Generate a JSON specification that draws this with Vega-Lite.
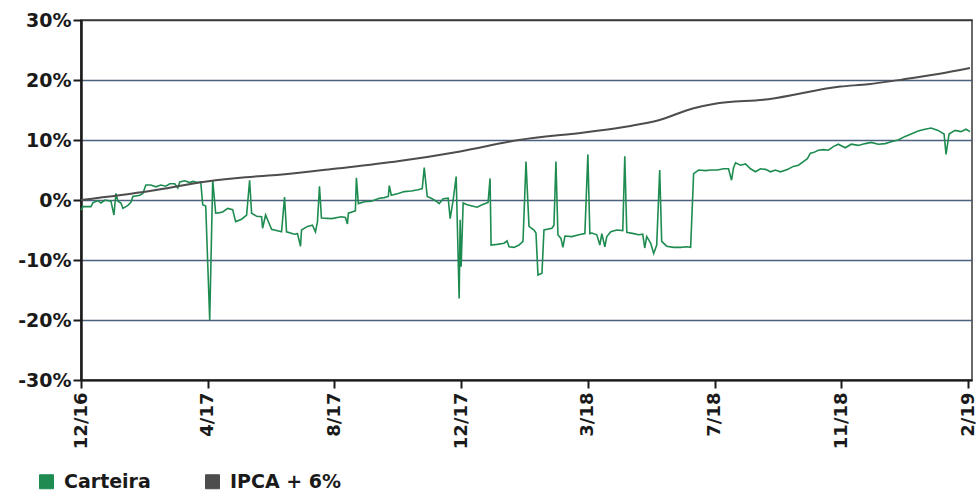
{
  "$schema": "https://vega.github.io/schema/vega-lite/v6.json",
  "width": 891,
  "height": 360,
  "autosize": "none",
  "padding": {"left": 81, "top": 20, "right": 5, "bottom": 112},
  "background": "white",
  "config": {
    "view": {"stroke": "#3a3a3a", "strokeWidth": 1.5},
    "font": "DejaVu Sans",
    "axis": {"labelFont": "DejaVu Sans", "labelFontWeight": "bold", "labelColor": "#1a1a1a"},
    "legend": {"labelFont": "DejaVu Sans"}
  },
  "datasets": {
    "carteira": [
      {"x":0,"y":-1.7},{"x":2,"y":-1.1},{"x":10,"y":-1.1},{"x":12,"y":-0.45},{"x":17,"y":-0.1},{"x":20,"y":-0.5},{"x":24,"y":0},{"x":30,"y":-0.2},{"x":33,"y":-2.5},{"x":35,"y":1.1},{"x":37,"y":-0.2},{"x":40,"y":-0.5},{"x":42,"y":-1.4},{"x":47,"y":-0.9},{"x":50,"y":-0.4},{"x":52,"y":0.6},{"x":59,"y":0.8},{"x":62,"y":1.1},{"x":65,"y":2.5},{"x":70,"y":2.5},{"x":75,"y":2.2},{"x":80,"y":2.5},{"x":85,"y":2.3},{"x":89,"y":2.7},{"x":94,"y":2.7},{"x":97,"y":2.0},{"x":99,"y":3.0},{"x":104,"y":3.2},{"x":109,"y":2.9},{"x":112,"y":3.1},{"x":117,"y":2.9},{"x":120,"y":3.0},{"x":122,"y":-0.8},{"x":125,"y":-1.0},{"x":129,"y":-20},{"x":132,"y":3.3},{"x":135,"y":-2.2},{"x":139,"y":-2.1},{"x":142,"y":-2.0},{"x":147,"y":-1.4},{"x":152,"y":-1.6},{"x":155,"y":-3.6},{"x":161,"y":-3.2},{"x":166,"y":-2.5},{"x":169,"y":3.3},{"x":171,"y":-2.2},{"x":176,"y":-2.7},{"x":181,"y":-2.8},{"x":182,"y":-4.7},{"x":185,"y":-2.5},{"x":187,"y":-3.3},{"x":191,"y":-4.9},{"x":201,"y":-5.3},{"x":204,"y":0.5},{"x":206,"y":-5.3},{"x":214,"y":-5.7},{"x":217,"y":-5.6},{"x":220,"y":-7.7},{"x":221,"y":-5.0},{"x":227,"y":-4.4},{"x":232,"y":-4.2},{"x":235,"y":-5.3},{"x":237,"y":-3.6},{"x":239,"y":2.3},{"x":241,"y":-3.0},{"x":251,"y":-3.1},{"x":261,"y":-2.8},{"x":265,"y":-2.9},{"x":267,"y":-4.0},{"x":268,"y":-2.2},{"x":273,"y":-1.9},{"x":275,"y":-1.8},{"x":276,"y":3.7},{"x":278,"y":-0.6},{"x":284,"y":-0.3},{"x":291,"y":-0.2},{"x":299,"y":0.3},{"x":304,"y":0.4},{"x":308,"y":0.6},{"x":309,"y":2.4},{"x":311,"y":0.8},{"x":318,"y":1.1},{"x":324,"y":1.4},{"x":331,"y":1.5},{"x":338,"y":1.7},{"x":342,"y":1.9},{"x":344,"y":5.4},{"x":347,"y":0.6},{"x":351,"y":0.3},{"x":356,"y":-0.2},{"x":359,"y":-0.6},{"x":363,"y":0.2},{"x":368,"y":0.3},{"x":370,"y":-3.1},{"x":373,"y":0.0},{"x":376,"y":3.9},{"x":379,"y":-16.4},{"x":380,"y":-3.3},{"x":381,"y":-11.1},{"x":383,"y":-0.5},{"x":387,"y":-0.8},{"x":392,"y":-1.0},{"x":397,"y":-1.2},{"x":402,"y":-0.8},{"x":408,"y":-0.4},{"x":410,"y":3.6},{"x":411,"y":-7.5},{"x":417,"y":-7.4},{"x":424,"y":-7.2},{"x":427,"y":-6.8},{"x":429,"y":-7.8},{"x":434,"y":-7.9},{"x":439,"y":-7.5},{"x":443,"y":-6.9},{"x":446,"y":6.4},{"x":449,"y":-4.4},{"x":454,"y":-5.0},{"x":456,"y":-5.5},{"x":458,"y":-12.5},{"x":462,"y":-12.2},{"x":464,"y":-5.0},{"x":472,"y":-4.7},{"x":474,"y":-4.2},{"x":476,"y":6.4},{"x":478,"y":-5.8},{"x":481,"y":-6.4},{"x":483,"y":-7.9},{"x":485,"y":-6.0},{"x":492,"y":-6.1},{"x":499,"y":-5.8},{"x":505,"y":-5.6},{"x":508,"y":7.6},{"x":510,"y":-5.6},{"x":512,"y":-5.5},{"x":517,"y":-5.8},{"x":520,"y":-7.5},{"x":522,"y":-5.6},{"x":525,"y":-7.8},{"x":527,"y":-6.1},{"x":531,"y":-5.3},{"x":537,"y":-5.0},{"x":543,"y":-5.1},{"x":545,"y":7.3},{"x":547,"y":-5.4},{"x":554,"y":-5.6},{"x":559,"y":-5.8},{"x":563,"y":-5.7},{"x":565,"y":-8.0},{"x":567,"y":-6.1},{"x":571,"y":-7.2},{"x":574,"y":-8.9},{"x":577,"y":-7.5},{"x":580,"y":5.0},{"x":582,"y":-6.9},{"x":587,"y":-7.7},{"x":594,"y":-7.9},{"x":601,"y":-7.9},{"x":607,"y":-7.8},{"x":611,"y":-7.9},{"x":614,"y":4.4},{"x":619,"y":5.0},{"x":626,"y":4.9},{"x":631,"y":5.0},{"x":638,"y":5.0},{"x":644,"y":5.2},{"x":649,"y":5.2},{"x":652,"y":3.3},{"x":654,"y":5.4},{"x":656,"y":6.2},{"x":661,"y":5.8},{"x":666,"y":6.0},{"x":671,"y":5.2},{"x":676,"y":4.7},{"x":681,"y":5.2},{"x":686,"y":5.1},{"x":691,"y":4.7},{"x":696,"y":5.0},{"x":701,"y":4.7},{"x":708,"y":5.1},{"x":714,"y":5.6},{"x":719,"y":5.8},{"x":724,"y":6.4},{"x":728,"y":6.9},{"x":731,"y":7.8},{"x":734,"y":7.9},{"x":739,"y":8.3},{"x":744,"y":8.4},{"x":749,"y":8.3},{"x":754,"y":8.9},{"x":759,"y":9.3},{"x":766,"y":8.7},{"x":772,"y":9.3},{"x":779,"y":9.1},{"x":786,"y":9.4},{"x":792,"y":9.6},{"x":799,"y":9.3},{"x":806,"y":9.4},{"x":812,"y":9.7},{"x":819,"y":10.0},{"x":826,"y":10.6},{"x":832,"y":11.0},{"x":839,"y":11.5},{"x":846,"y":11.8},{"x":852,"y":12.0},{"x":859,"y":11.6},{"x":865,"y":11.0},{"x":867,"y":7.6},{"x":870,"y":11.0},{"x":876,"y":11.6},{"x":882,"y":11.4},{"x":887,"y":11.8},{"x":891,"y":11.4}
    ],
    "ipca": [
      {"x":0,"y":0},{"x":69,"y":1.5},{"x":126,"y":3.1},{"x":165,"y":3.8},{"x":199,"y":4.2},{"x":254,"y":5.2},{"x":319,"y":6.5},{"x":380,"y":8.1},{"x":439,"y":10},{"x":506,"y":11.3},{"x":549,"y":12.3},{"x":579,"y":13.3},{"x":614,"y":15.3},{"x":634,"y":16},{"x":689,"y":16.8},{"x":761,"y":18.9},{"x":789,"y":19.3},{"x":824,"y":20.1},{"x":859,"y":21},{"x":891,"y":22}
    ]
  },
  "encoding": {
    "x": {
      "field": "x", "type": "quantitative",
      "scale": {"domain": [0, 893], "nice": false, "zero": false},
      "axis": {
        "values": [0, 127, 254, 381, 508, 635, 762, 889],
        "labelExpr": "['12/16','4/17','8/17','12/17','3/18','7/18','11/18','2/19'][round(datum.value/127)]",
        "labelAngle": 270, "labelAlign": "right", "labelBaseline": "middle",
        "labelFontSize": 18, "labelPadding": 4,
        "grid": false, "title": null,
        "domainColor": "#1a1a1a", "domainWidth": 2,
        "tickColor": "#1a1a1a", "tickWidth": 2, "tickSize": 8
      }
    },
    "y": {
      "field": "y", "type": "quantitative",
      "scale": {"domain": [-30, 30], "nice": false},
      "axis": {
        "values": [-30, -20, -10, 0, 10, 20, 30],
        "labelExpr": "datum.value + '%'",
        "labelFontSize": 19, "labelPadding": 2,
        "title": null,
        "domainColor": "#1a1a1a", "domainWidth": 2.5,
        "tickColor": "#1a1a1a", "tickWidth": 2, "tickSize": 8,
        "grid": true,
        "gridColor": {"condition": {"test": "abs(datum.value) == 30", "value": "#3a3a3a"}, "value": "#4b5f7e"},
        "gridWidth": 1.5
      }
    },
    "color": {
      "field": "s", "type": "nominal",
      "scale": {"domain": ["Carteira", "IPCA + 6%"], "range": ["#1e8c50", "#4d4d4d"]},
      "legend": {
        "title": null, "orient": "none", "direction": "horizontal",
        "legendX": -44, "legendY": 452,
        "symbolType": "square", "symbolSize": 196,
        "symbolStrokeColor": "#111", "symbolStrokeWidth": 1,
        "labelFontSize": 19, "labelFontWeight": "bold", "labelColor": "#1a1a1a",
        "labelOffset": 8, "columnPadding": 52, "labelLimit": 300,
        "encode": {"symbols": {"update": {"fill": {"scale": "color", "field": "value"}, "stroke": {"value": "#111"}, "strokeWidth": {"value": 1}, "opacity": {"value": 1}}}}
      }
    }
  },
  "layer": [
    {
      "data": {"name": "carteira"},
      "transform": [{"calculate": "'Carteira'", "as": "s"}],
      "mark": {"type": "line", "strokeWidth": 1.6, "interpolate": "linear"}
    },
    {
      "data": {"name": "ipca"},
      "transform": [{"calculate": "'IPCA + 6%'", "as": "s"}],
      "mark": {"type": "line", "strokeWidth": 2, "interpolate": "monotone"}
    }
  ]
}
